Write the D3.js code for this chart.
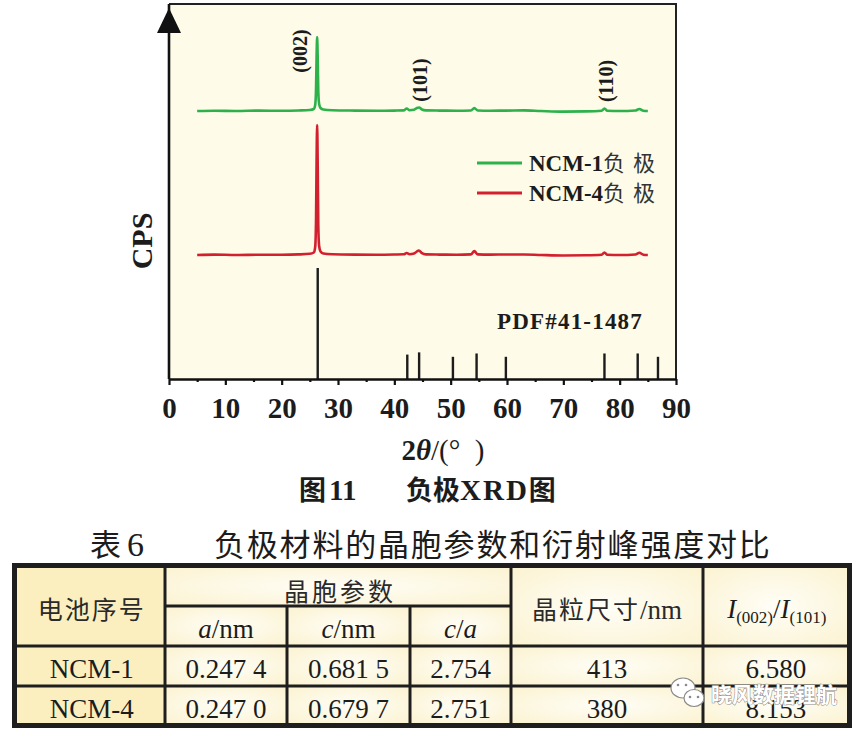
<!DOCTYPE html>
<html lang="zh">
<head>
<meta charset="UTF-8">
<title>负极XRD图</title>
<script src="https://cdn.jsdelivr.net/npm/d3@7"></script>
<style>
  body { margin: 0; background: #fff; }
  svg { display: block; }
</style>
</head>
<body>
<svg id="chart"></svg>
<script>
// ---- data ----
const xTicks = [0, 10, 20, 30, 40, 50, 60, 70, 80, 90];
const xMinorTicks = [5, 15, 25, 35, 45, 55, 65, 75, 85];

// PDF#41-1487 standard lines (2θ, relative intensity %)
const pdfAngles = [26.4, 42.3, 44.4, 50.4, 54.6, 59.8, 77.3, 83.2, 86.8];
const pdfIntensity = [100, 22, 24, 20, 23, 20, 23, 23, 20];

// NCM-1 anode (counts above its own baseline, a.u.)
const ncm1Angles = [5, 8, 12, 16, 20, 23, 25, 25.7, 25.95, 26.1, 26.2, 26.3, 26.4, 26.5, 26.65, 26.9, 27.4, 29, 33, 37, 40,
  41.7, 42.2, 42.7, 43.5, 44.0, 44.4, 44.9, 45.6, 48, 51, 53.6, 54.2, 54.8, 57, 60, 63, 66, 70, 74, 76.8, 77.3, 77.8, 80,
  82.8, 83.5, 84.2, 85];
const ncm1Counts = [0, 0.3, 0, 0.4, 0.2, 0.5, 1, 2, 6, 22, 55, 74, 52, 20, 7, 3, 1.5, 0.8, 0.4, 0.2, 0.4,
  0.6, 2.5, 0.8, 1.2, 3, 3.5, 1.5, 0.6, 0.4, 0.3, 0.5, 3, 0.5, 0.3, 0.4, 0.6, 0, -0.6, -0.4, 0.3, 2.5, 0.3, 0,
  0.5, 2, 0.3, 0];

// NCM-4 anode
const ncm4Angles = [5, 8, 12, 16, 20, 23, 25, 25.7, 25.95, 26.1, 26.2, 26.3, 26.4, 26.5, 26.65, 26.9, 27.4, 29, 33, 37, 40,
  41.7, 42.2, 42.7, 43.5, 44.0, 44.35, 44.9, 45.6, 48, 51, 53.6, 54.2, 54.8, 57, 60, 63, 66, 70, 74, 76.8, 77.3, 77.8, 80,
  82.8, 83.5, 84.2, 85];
const ncm4Counts = [0, 0.4, 0, 0.3, 0.3, 0.6, 1.2, 2.5, 8, 35, 95, 130, 90, 30, 9, 3.5, 1.5, 0.8, 0.4, 0.3, 0.5,
  0.7, 2, 0.8, 1.5, 3.5, 4.5, 1.8, 0.6, 0.4, 0.3, 0.6, 4, 0.6, 0.4, 0.5, 0.5, 0, -0.5, -0.3, 0.3, 2.5, 0.3, 0,
  0.5, 2.2, 0.3, 0];

const ncm1Offset = 268;
const ncm4Offset = 124;

const hklLabels = ['(002)', '(101)', '(110)'];
const hklAngles = [23.2, 44.6, 77.6];
const hklHeights = [328, 299, 298];

const seriesNames = ['NCM-1', 'NCM-4'];
const seriesColors = ['#2cb14b', '#d3202f'];

// table 6
const cellLabels = ['NCM-1', 'NCM-4'];
const aValues = ['0.247 4', '0.247 0'];
const cValues = ['0.681 5', '0.679 7'];
const caValues = ['2.754', '2.751'];
const grainSizes = ['413', '380'];
const intensityRatios = ['6.580', '8.153'];

// ---- drawing ----
const SERIF = '"Liberation Serif", "Times New Roman", serif';
const CJK = '"Noto Sans CJK SC", sans-serif';
const INK = '#1c1c1c';

const svg = d3.select('#chart').attr('width', 864).attr('height', 731);

const x = d3.scaleLinear().domain([0, 90]).range([169, 676]);
const y = d3.scaleLinear().domain([0, 375]).range([379, 4]);
const yPdf = d3.scaleLinear().domain([0, 100]).range([379, 268]);

// plot background
svg.append('rect')
  .attr('x', x(0)).attr('y', y(375))
  .attr('width', x(90) - x(0)).attr('height', y(0) - y(375))
  .attr('fill', '#fefbe8');

// reference sticks
svg.append('g')
  .attr('stroke', INK).attr('stroke-width', 2.4)
  .selectAll('line')
  .data(pdfAngles)
  .join('line')
  .attr('x1', d => x(d)).attr('x2', d => x(d))
  .attr('y1', yPdf(0)).attr('y2', (d, i) => yPdf(pdfIntensity[i]));

// curves
const line = d3.line().x(d => x(d[0])).y(d => y(d[1])).curve(d3.curveMonotoneX);
const curves = [
  { angles: ncm1Angles, counts: ncm1Counts, offset: ncm1Offset },
  { angles: ncm4Angles, counts: ncm4Counts, offset: ncm4Offset }
];
svg.append('g')
  .attr('fill', 'none').attr('stroke-width', 2.6).attr('stroke-linejoin', 'round')
  .selectAll('path')
  .data(curves)
  .join('path')
  .attr('stroke', (d, i) => seriesColors[i])
  .attr('d', d => line(d.angles.map((a, j) => [a, d.counts[j] + d.offset])));

// hkl labels
svg.append('g')
  .selectAll('text')
  .data(hklLabels)
  .join('text')
  .attr('transform', (d, i) => `translate(${x(hklAngles[i])},${y(hklHeights[i])}) rotate(-90)`)
  .attr('text-anchor', 'middle').attr('dominant-baseline', 'central')
  .attr('font-family', SERIF).attr('font-weight', 'bold').attr('font-size', 20)
  .attr('fill', INK)
  .text(d => d);

// PDF card label
svg.append('text')
  .attr('x', 643).attr('y', 329).attr('text-anchor', 'end')
  .attr('font-family', SERIF).attr('font-weight', 'bold').attr('font-size', 23)
  .attr('letter-spacing', 1.2).attr('fill', INK)
  .text('PDF#41-1487');

// legend
const legend = svg.append('g').attr('transform', 'translate(477,163)');
const legendItem = legend.selectAll('g')
  .data(seriesNames)
  .join('g')
  .attr('transform', (d, i) => `translate(0,${i * 30})`);
legendItem.append('line')
  .attr('x1', 0).attr('x2', 45)
  .attr('stroke', (d, i) => seriesColors[i]).attr('stroke-width', 3);
const legendText = legendItem.append('text')
  .attr('x', 52).attr('y', 8).attr('fill', INK);
legendText.append('tspan')
  .attr('font-family', SERIF).attr('font-weight', 'bold').attr('font-size', 23)
  .text(d => d);
legendText.append('tspan')
  .attr('font-family', CJK).attr('font-size', 22).attr('letter-spacing', 8).attr('fill', '#333')
  .text('负极');

// frame: top & right
svg.append('path')
  .attr('fill', 'none').attr('stroke', '#222').attr('stroke-width', 2)
  .attr('d', `M${x(0)},${y(375)}H${x(90)}V${y(0)}`);

// x axis
const xAxis = svg.append('g')
  .attr('transform', `translate(0,${y(0)})`)
  .call(d3.axisBottom(x).tickValues(xTicks).tickSize(6).tickSizeOuter(0));
xAxis.select('.domain').attr('stroke', '#111').attr('stroke-width', 2.6);
xAxis.selectAll('.tick line').attr('stroke', '#111').attr('stroke-width', 2.2);
xAxis.selectAll('.tick text')
  .attr('y', 39).attr('dy', 0)
  .attr('font-family', SERIF).attr('font-weight', 'bold').attr('font-size', 29)
  .attr('fill', INK);

svg.append('g')
  .attr('transform', `translate(0,${y(0)})`)
  .call(d3.axisBottom(x).tickValues(xMinorTicks).tickSize(3).tickSizeOuter(0).tickFormat(''))
  .call(g => g.select('.domain').remove())
  .call(g => g.selectAll('.tick line').attr('stroke', '#111').attr('stroke-width', 2.2));

// y axis with arrow
svg.append('line')
  .attr('x1', x(0)).attr('x2', x(0)).attr('y1', y(0)).attr('y2', y(375))
  .attr('stroke', '#111').attr('stroke-width', 2.6);
svg.append('path')
  .attr('fill', '#111')
  .attr('d', `M${x(0)},${y(371)}L${x(0) - 12},${y(346)}L${x(0) + 12},${y(346)}Z`);

svg.append('text')
  .attr('transform', 'translate(152,241) rotate(-90)')
  .attr('text-anchor', 'middle')
  .attr('font-family', SERIF).attr('font-weight', 'bold').attr('font-size', 30).attr('fill', INK)
  .text('CPS');

// x label
const xLabel = svg.append('text')
  .attr('x', 443).attr('y', 460).attr('text-anchor', 'middle')
  .attr('font-family', SERIF).attr('font-weight', 'bold').attr('font-size', 29).attr('fill', INK);
xLabel.append('tspan').text('2');
xLabel.append('tspan').attr('font-style', 'italic').text('θ');
xLabel.append('tspan').attr('font-weight', 'normal').text('/(°\u00a0\u00a0)');

// figure caption
const caption = svg.append('text')
  .attr('y', 500).attr('font-weight', 'bold').attr('fill', INK);
caption.append('tspan').attr('x', 299).attr('font-family', CJK).attr('font-size', 27).text('图');
caption.append('tspan').attr('dx', 3).attr('font-family', SERIF).attr('font-size', 29).text('11');
caption.append('tspan').attr('x', 406).attr('font-family', CJK).attr('font-size', 27).text('负极');
caption.append('tspan').attr('font-family', SERIF).attr('font-size', 29).attr('letter-spacing', 2).text('XRD');
caption.append('tspan').attr('font-family', CJK).attr('font-size', 27).text('图');

// ---- table 6 ----
const title = svg.append('text').attr('y', 556).attr('fill', INK);
title.append('tspan').attr('x', 90).attr('font-family', CJK).attr('font-size', 31).text('表');
title.append('tspan').attr('dx', 6).attr('font-family', SERIF).attr('font-size', 34).text('6');
title.append('tspan').attr('x', 214).attr('font-family', CJK).attr('font-size', 31).attr('letter-spacing', 1.8)
  .text('负极材料的晶胞参数和衍射峰强度对比');

const defs = svg.append('defs');
const grad = defs.append('radialGradient').attr('id', 'cellFill').attr('r', '75%');
grad.append('stop').attr('offset', '0%').attr('stop-color', '#fffef7');
grad.append('stop').attr('offset', '100%').attr('stop-color', '#fbf2cf');

const colEdges = [15.5, 165, 287, 410, 511, 703, 848.5];
const rowEdges = [566.5, 606, 646, 686, 724.5];

svg.append('rect')
  .attr('x', 12).attr('y', 563).attr('width', 840).attr('height', 165)
  .attr('fill', '#1e1e1e');

const cells = [
  { c0: 0, c1: 1, r0: 0, r1: 2, first: true },
  { c0: 1, c1: 4, r0: 0, r1: 1 },
  { c0: 1, c1: 2, r0: 1, r1: 2 },
  { c0: 2, c1: 3, r0: 1, r1: 2 },
  { c0: 3, c1: 4, r0: 1, r1: 2 },
  { c0: 4, c1: 5, r0: 0, r1: 2 },
  { c0: 5, c1: 6, r0: 0, r1: 2 }
];
cellLabels.forEach((d, i) => {
  for (let c = 0; c < 6; c++) cells.push({ c0: c, c1: c + 1, r0: i + 2, r1: i + 3, first: c === 0 });
});
svg.append('g')
  .selectAll('rect')
  .data(cells)
  .join('rect')
  .attr('x', d => colEdges[d.c0] + 1.5)
  .attr('y', d => rowEdges[d.r0] + 1.5)
  .attr('width', d => colEdges[d.c1] - colEdges[d.c0] - 3)
  .attr('height', d => rowEdges[d.r1] - rowEdges[d.r0] - 3)
  .attr('fill', d => d.first ? '#fbefbf' : 'url(#cellFill)');

const mid = (a, b) => (colEdges[a] + colEdges[b]) / 2;
const cjkText = (tx, ty, s, ls) => svg.append('text')
  .attr('x', tx).attr('y', ty).attr('text-anchor', 'middle')
  .attr('font-family', CJK).attr('font-size', 25).attr('letter-spacing', ls).attr('fill', '#2a2a2a')
  .text(s);

cjkText(mid(0, 1) + 1.5, 619, '电池序号', 2);
cjkText(mid(1, 4) + 2, 601, '晶胞参数', 3);

const grain = svg.append('text')
  .attr('x', mid(4, 5)).attr('y', 619).attr('text-anchor', 'middle').attr('fill', '#2a2a2a');
grain.append('tspan').attr('font-family', CJK).attr('font-size', 25).attr('letter-spacing', 2).text('晶粒尺寸');
grain.append('tspan').attr('font-family', SERIF).attr('font-size', 27).text('/nm');

const subHeads = [['a', '/nm'], ['c', '/nm'], ['c', '/', 'a']];
subHeads.forEach((parts, i) => {
  const t = svg.append('text')
    .attr('x', mid(i + 1, i + 2)).attr('y', 638).attr('text-anchor', 'middle')
    .attr('font-family', SERIF).attr('font-size', 27).attr('fill', INK);
  parts.forEach(p => t.append('tspan').attr('font-style', p.length === 1 && p !== '/' ? 'italic' : 'normal').text(p));
});

const ratio = svg.append('text')
  .attr('x', mid(5, 6) + 1).attr('y', 618).attr('text-anchor', 'middle')
  .attr('font-family', SERIF).attr('font-size', 27).attr('fill', INK);
ratio.append('tspan').attr('font-style', 'italic').text('I');
ratio.append('tspan').attr('font-size', 17).attr('dy', 5).text('(002)');
ratio.append('tspan').attr('dy', -5).text('/');
ratio.append('tspan').attr('font-style', 'italic').text('I');
ratio.append('tspan').attr('font-size', 17).attr('dy', 5).text('(101)');

const rowColumns = [cellLabels, aValues, cValues, caValues, grainSizes, intensityRatios];
const rowBaselines = [678, 718];
rowColumns.forEach((col, c) => {
  svg.append('g')
    .selectAll('text')
    .data(col)
    .join('text')
    .attr('x', mid(c, c + 1) + (c === 0 ? 1.5 : 0))
    .attr('y', (d, i) => rowBaselines[i])
    .attr('text-anchor', 'middle')
    .attr('font-family', SERIF).attr('font-size', 27).attr('fill', INK)
    .text(d => d);
});

// watermark
const wm = svg.append('g').attr('fill', '#fff').attr('stroke', '#8a8a8a').attr('stroke-width', 1.2);
wm.append('ellipse').attr('cx', 683).attr('cy', 688).attr('rx', 12).attr('ry', 10);
wm.append('ellipse').attr('cx', 694).attr('cy', 698).attr('rx', 10).attr('ry', 8.5);
wm.append('g').attr('fill', '#8a8a8a').attr('stroke', 'none')
  .selectAll('circle')
  .data([[678, 685], [686, 685], [690, 697], [698, 697]])
  .join('circle')
  .attr('cx', d => d[0]).attr('cy', d => d[1]).attr('r', 1.3);
svg.append('text')
  .attr('x', 711).attr('y', 702)
  .attr('font-family', CJK).attr('font-size', 21).attr('font-weight', 'bold')
  .attr('fill', '#fff').attr('stroke', '#8a8a8a').attr('stroke-width', 1)
  .attr('paint-order', 'stroke')
  .text('晓风数据锂航');
</script>
</body>
</html>
